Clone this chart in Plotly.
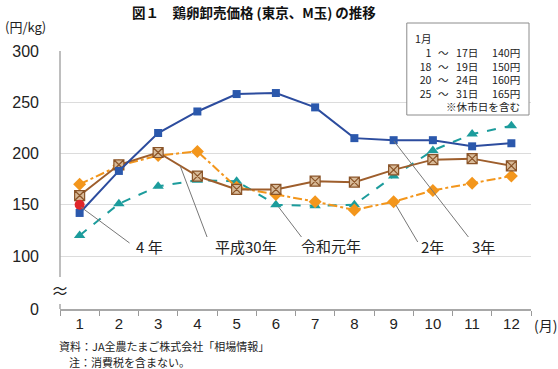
import plotly.graph_objects as go

months = ["1", "2", "3", "4", "5", "6", "7", "8", "9", "10", "11", "12"]
h30 = [159, 189, 201, 178, 165, 165, 173, 172, 184, 194, 195, 188]
r1 = [120, 151, 168, 174, 173, 150, 149, 150, 178, 203, 219, 227]
r2 = [170, 188, 198, 202, 167, 160, 153, 145, 153, 164, 171, 178]
r3 = [142, 183, 220, 241, 258, 259, 245, 215, 213, 213, 207, 210]
r4 = [150]

ytick_vals = [48.3, 100, 150, 200, 250, 300]
ytick_text = ["0", "100", "150", "200", "250", "300"]

jan_from = ["1", "18", "20", "25"]
jan_to = ["17日", "19日", "24日", "31日"]
jan_price = ["140円", "150円", "160円", "165円"]

FONT = "Noto Sans CJK JP, Liberation Sans, sans-serif"
W, H = 558, 369
X0, X1, Y0, Y1 = 57, 531, 51, 309


def px(x):
    return (x - X0) / (X1 - X0)


def py(y):
    return (Y1 - y) / (Y1 - Y0)


fig = go.Figure()

fig.add_trace(go.Scatter(x=months, y=r1, mode="lines+markers", name="令和元年",
                         line=dict(color="#1C9C9C", width=2, dash="dash"),
                         marker=dict(symbol="triangle-up", size=10, color="#1C9C9C")))
fig.add_trace(go.Scatter(x=months, y=r2, mode="lines+markers", name="2年",
                         line=dict(color="#F3961C", width=2, dash="dashdot"),
                         marker=dict(symbol="diamond", size=10, color="#F3961C")))
fig.add_trace(go.Scatter(x=months, y=h30, mode="lines+markers", name="平成30年",
                         line=dict(color="#9E5E2C", width=2),
                         marker=dict(symbol="square-x", size=10, color="#D8BA98",
                                     line=dict(color="#8A5428", width=1.2))))
fig.add_trace(go.Scatter(x=months, y=r3, mode="lines+markers", name="3年",
                         line=dict(color="#2C4C9E", width=2),
                         marker=dict(symbol="square", size=8, color="#2B58AC")))
fig.add_trace(go.Scatter(x=months[:1], y=r4, mode="markers", name="4年",
                         marker=dict(symbol="circle", size=10, color="#E0262A")))

shapes = []
# y axis line with break
shapes.append(dict(type="line", xref="paper", yref="paper", x0=0, x1=0,
                   y0=py(277), y1=1, line=dict(color="#A8A8A8", width=1.5)))
shapes.append(dict(type="line", xref="paper", yref="paper", x0=0, x1=0,
                   y0=0, y1=py(304), line=dict(color="#A8A8A8", width=1.5)))
# box for January note
shapes.append(dict(type="rect", xref="paper", yref="paper", x0=px(406), x1=px(529),
                   y0=py(115), y1=py(23), fillcolor="white",
                   line=dict(color="#8C8C8C", width=1), layer="above"))
# leader lines
leaders = [((78, 207), (127, 243)), ((178, 166), (205, 237)),
           ((277, 207), (300, 237)), ((395, 205), (417, 242)),
           ((393, 141), (468, 237))]
for (a, b) in leaders:
    shapes.append(dict(type="line", xref="paper", yref="paper",
                       x0=px(a[0]), y0=py(a[1]), x1=px(b[0]), y1=py(b[1]),
                       line=dict(color="#777777", width=1)))

ann = []


def txt(x, y, s, size=12, xanchor="center", color="#222222", yanchor="middle", align="center"):
    ann.append(dict(x=px(x), y=py(y), xref="paper", yref="paper", text=s,
                    showarrow=False, xanchor=xanchor, yanchor=yanchor, align=align,
                    borderpad=0,
                    font=dict(family=FONT, size=size, color=color)))


txt(252, 12, "<b>図１　鶏卵卸売価格 (東京、M玉) の推移</b>", size=13.5, color="#111111")
txt(1, 26, "(円/kg)", size=13, xanchor="left")
txt(57, 290, "≈", size=18)
txt(533, 325, "(月)", size=14, xanchor="left")
txt(147, 246, "4 年", size=15)
txt(244, 246, "平成30年", size=15)
txt(330, 245, "令和元年", size=15)
txt(432, 246, "2年", size=15)
txt(483, 246, "3年", size=15)

FS = 10.6
top = 29.5
BL = "\u00a0"
txt(432, top, "<br>".join(["1月"] + jan_from), size=FS, xanchor="right",
    yanchor="top", align="right")
txt(443, top, "<br>".join([BL] + ["～"] * len(jan_from)), size=FS, yanchor="top")
txt(479, top, "<br>".join([BL] + jan_to), size=FS, xanchor="right",
    yanchor="top", align="right")
txt(521, top, "<br>".join([BL] + jan_price), size=FS, xanchor="right",
    yanchor="top", align="right")
txt(521, 106.5, "※休市日を含む", size=FS, xanchor="right")

txt(55, 346, "資料：JA全農たまご株式会社「相場情報」", size=11, xanchor="left")
txt(65, 362, "注：消費税を含まない。", size=11, xanchor="left")

fig.update_layout(
    width=W, height=H,
    margin=dict(l=X0, r=W - X1, t=Y0, b=H - Y1, pad=0),
    paper_bgcolor="white", plot_bgcolor="white",
    showlegend=False,
    shapes=shapes, annotations=ann,
    font=dict(family=FONT, color="#222222"),
)
fig.update_xaxes(type="category", tickson="boundaries", ticks="outside",
                 ticklen=5, tickcolor="#999999", tickwidth=1,
                 showline=True, linecolor="#A8A8A8", linewidth=1.5,
                 showgrid=False, zeroline=False, range=[-0.5, 11.5],
                 tickfont=dict(family="Liberation Sans, sans-serif", size=15, color="#222222"))
fig.update_yaxes(range=[48.3, 300], tickvals=ytick_vals, ticktext=ytick_text,
                 showgrid=True, gridcolor="#DCDCDC", gridwidth=1,
                 zeroline=False, showline=False, ticks="",
                 ticklabelstandoff=20,
                 tickfont=dict(family="Liberation Sans, sans-serif", size=16, color="#222222"))

fig.write_html("out.html", config={"displayModeBar": False},
               post_script="document.body.style.margin='0';")
